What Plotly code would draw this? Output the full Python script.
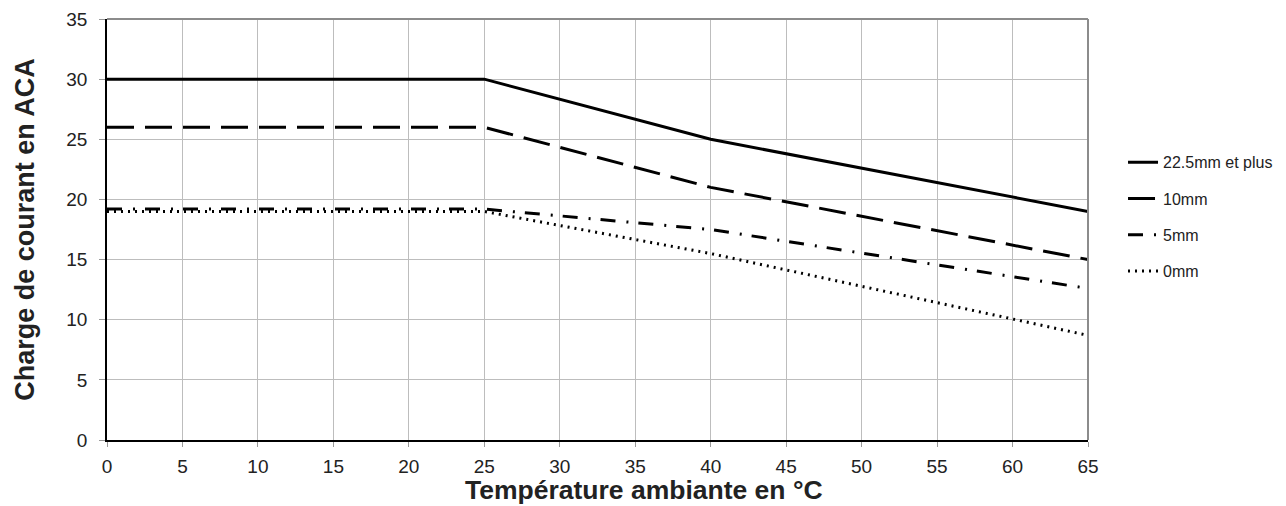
import plotly.graph_objects as go

temps = [0, 25, 40, 65]
series_names = ["22.5mm et plus", "10mm", "5mm", "0mm"]
v_22_5 = [30, 30, 25, 19]
v_10 = [26, 26, 21, 15]
v_5 = [19.2, 19.2, 17.5, 12.6]
v_0 = [19, 19, 15.5, 8.7]
x_ticks = list(range(0, 70, 5))
y_ticks = list(range(0, 40, 5))
x_title = "Température ambiante en °C"
y_title = "Charge de courant en ACA"

dashes = ["solid", "27px,11px", "15px,11px,2px,10px", "2px,5px"]
values = [v_22_5, v_10, v_5, v_0]

fig = go.Figure()
for i, (name, vals, dash) in enumerate(zip(series_names, values, dashes)):
    fig.add_trace(go.Scatter(
        x=temps, y=vals, name=name, mode="lines",
        line=dict(color="black", width=3, dash=dash),
        legendgroup=name,
    ))

font_family = "Liberation Sans, Arial, sans-serif"
fig.update_layout(
    width=1286, height=506,
    margin=dict(l=107, r=198, t=19, b=66, autoexpand=False),
    paper_bgcolor="white", plot_bgcolor="white",
    font=dict(family=font_family, color="#222"),
    showlegend=True,
    legend=dict(
        x=1.0357, xanchor="left", y=0.70, yanchor="top",
        font=dict(size=16, color="#222"),
        traceorder="grouped", tracegroupgap=12.5,
        bgcolor="rgba(0,0,0,0)",
    ),
    xaxis=dict(
        range=[0, 65], tickvals=x_ticks, ticktext=[str(t) for t in x_ticks],
        showgrid=True, gridcolor="#bdbdbd", gridwidth=1,
        showline=True, linecolor="black", linewidth=1.5,
        ticks="outside", ticklen=5, tickcolor="#999",
        tickfont=dict(size=19, color="#222"),
        ticklabelstandoff=3,
        zeroline=False, automargin=False,
    ),
    yaxis=dict(
        range=[0, 35], tickvals=y_ticks, ticktext=[str(t) for t in y_ticks],
        showgrid=True, gridcolor="#bdbdbd", gridwidth=1,
        showline=True, linecolor="black", linewidth=1.5,
        ticks="outside", ticklen=6, tickcolor="#999",
        tickfont=dict(size=19, color="#222"),
        ticklabelstandoff=8,
        zeroline=False, automargin=False,
        title=dict(text="<b>" + y_title + "</b>", font=dict(size=27, color="#222"), standoff=24),
    ),
    annotations=[
        dict(text="<b>" + x_title + "</b>", xref="paper", yref="paper",
             x=0.547, y=-0.119, xanchor="center", yanchor="middle",
             showarrow=False, font=dict(size=26.5, color="#222")),
    ],
    shapes=[
        dict(type="line", xref="paper", yref="paper", x0=0, x1=1, y0=1, y1=1,
             line=dict(color="#8c8c8c", width=2)),
        dict(type="line", xref="paper", yref="paper", x0=1, x1=1, y0=0, y1=1,
             line=dict(color="#8c8c8c", width=2)),
    ],
)

fig.write_html("out.html", config={"displayModeBar": False},
               post_script="document.body.style.margin='0px';")
